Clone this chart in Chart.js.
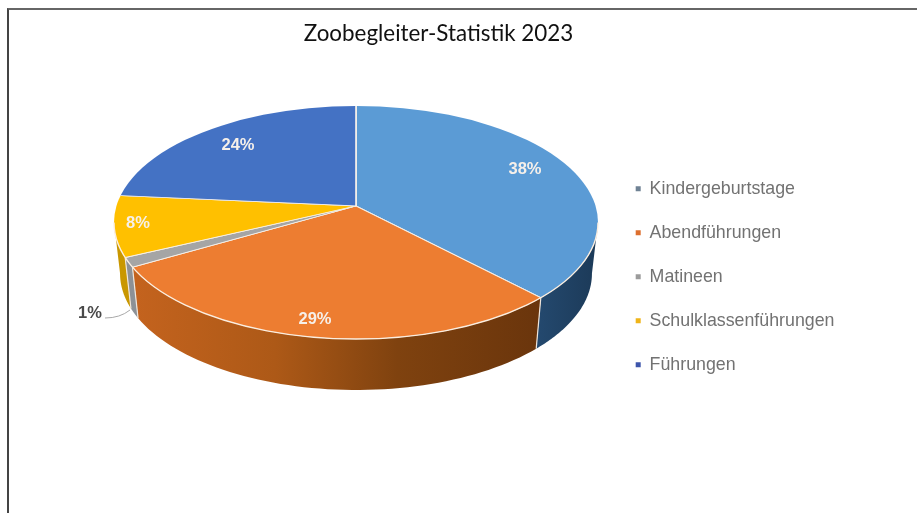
<!DOCTYPE html>
<html lang="de"><head><meta charset="utf-8">
<script src="https://cdn.jsdelivr.net/npm/chart.js@4"></script>
<style>
html,body{margin:0;padding:0;background:#fff;width:917px;height:513px;overflow:hidden}
#frame{position:absolute;left:7px;top:8px;right:0;bottom:0;border-left:2px solid #444;border-top:2px solid #666}
canvas{position:absolute;left:0;top:0;filter:blur(0.45px)}
</style></head><body>
<div id="frame"></div>
<canvas id="c" width="917" height="513"></canvas>
<script>
const categories = ['Kindergeburtstage','Abendführungen','Matineen','Schulklassenführungen','Führungen'];
const shares = [37.6, 29.3, 1.3, 8.2, 23.6];
const sliceColors = ['#5b9bd5','#ed7d31','#a5a5a5','#ffc000','#4472c4'];
const legendColors = ['#6f8294','#dd6f2e','#9b9b9b','#efb419','#3d55ab'];
const titleText = 'Zoobegleiter-Statistik 2023';

// perspective view: apex of the slices sits above the centre of the rim ellipse
const view = {cx:356, cy:206, rimCy:222.5, rx:242, ry:116.5, depth:51, shrink:0.975, over:1.2, kTop:0.5, kBottom:0.49};
const sideStops = [
  [[0,'#24496f'],[1,'#1c3a58']],
  [[0,'#c4631e'],[0.35,'#ad5917'],[0.65,'#7f420f'],[1,'#6a350c']],
  [[0,'#8d9196'],[1,'#8d9196']],
  [[0,'#c99700'],[1,'#c99700']],
  [[0,'#2f4f8a'],[1,'#2f4f8a']]
];
const labelSpots = [[525,169],[315,319],[138,223],[238,145]];
const outsideLabel = {index:2, x:90, y:313};

// where the ray from the apex at slice angle a meets the rim ellipse (ellipse parameter)
function rimParam(a){
  const v = view, k = Math.sin(a)>=0 ? v.kBottom : v.kTop;
  const dx = Math.cos(a)/v.rx, dy = k*Math.sin(a)*v.rx/v.ry/v.rx, y0 = (v.cy-v.rimCy)/v.ry;
  const A = dx*dx+dy*dy, B = 2*dy*y0, C = y0*y0-1;
  const t = (-B+Math.sqrt(B*B-4*A*C))/(2*A);
  return Math.atan2(y0+dy*t, dx*t);
}

const pie3d = {
  id:'pie3d',
  afterLayout(chart){
    const t = chart.titleBlock; t.left -= 20; t.right -= 20;
    const l = chart.legend; const h = l.bottom - l.top; const w = l.right - l.left;
    l.left = 609.5; l.right = l.left + w; l.top = 153.6; l.bottom = l.top + h;
  },
  beforeDatasetDraw(chart,args){
    const ctx = chart.ctx, meta = args.meta, v = view;
    const arcs = meta.data, R = arcs[0].outerRadius, ox = arcs[0].x, oy = arcs[0].y;
    const top = p=>[v.cx+v.rx*Math.cos(p), v.rimCy+v.ry*Math.sin(p)];
    const bot = p=>[v.cx+v.rx*v.shrink*Math.cos(p), v.rimCy+v.ry*Math.sin(p)+v.depth];
    // side wall
    arcs.forEach((a,i)=>{
      let s = rimParam(a.startAngle), e = rimParam(a.endAngle);
      if (a.endAngle>Math.PI && a.endAngle<=1.5*Math.PI+1e-6 && e<0) e += 2*Math.PI;
      if (a.endAngle>=1.5*Math.PI-1e-6 && a.startAngle>Math.PI) return;
      s = Math.max(s,0); e = Math.min(e,Math.PI);
      if (e<=s) return;
      const n = 60; const pts=[];
      for(let k=0;k<=n;k++) pts.push(top(s+(e-s)*k/n));
      for(let k=n;k>=0;k--) pts.push(bot(s+(e-s)*k/n));
      const xs = pts.map(p=>p[0]);
      const g = ctx.createLinearGradient(Math.min(...xs),0,Math.max(...xs),0);
      sideStops[i].forEach(st=>g.addColorStop(st[0],st[1]));
      ctx.save();
      ctx.beginPath(); pts.forEach((p,k)=>k?ctx.lineTo(p[0],p[1]):ctx.moveTo(p[0],p[1])); ctx.closePath();
      ctx.fillStyle=g; ctx.fill();
      ctx.restore();
      if (s>0){
        const p=top(s), q=bot(s);
        ctx.save(); ctx.strokeStyle='#f0e6dc'; ctx.lineWidth=1.2;
        ctx.beginPath(); ctx.moveTo(p[0],p[1]); ctx.lineTo(q[0],q[1]); ctx.stroke(); ctx.restore();
      }
    });
    // top face: the library's own arcs, projected in two halves and trimmed to the rim
    const sx = v.rx*v.over/R;
    [[0,v.cy,sx*v.kTop],[v.cy,chart.height-v.cy,sx*v.kBottom]].forEach(([y,h,sy])=>{
      ctx.save();
      ctx.beginPath(); ctx.rect(0,y,chart.width,h); ctx.clip();
      ctx.beginPath(); ctx.ellipse(v.cx,v.rimCy,v.rx,v.ry,0,0,Math.PI*2); ctx.clip();
      ctx.translate(v.cx,v.cy); ctx.scale(sx,sy); ctx.translate(-ox,-oy);
      meta.controller.draw();
      ctx.restore();
    });
    // light front rim
    ctx.save();
    ctx.strokeStyle='#fbeee0'; ctx.lineWidth=1.4;
    ctx.beginPath(); ctx.ellipse(v.cx,v.rimCy,v.rx,v.ry,0,0,Math.PI); ctx.stroke();
    ctx.restore();
    return false;
  },
  afterDatasetsDraw(chart){
    const ctx = chart.ctx, total = shares.reduce((a,b)=>a+b,0);
    const pct = i=>Math.round(shares[i]/total*100)+'%';
    ctx.save();
    ctx.textAlign='center'; ctx.textBaseline='middle';
    ctx.font='bold 16.5px "Liberation Sans"';
    ctx.fillStyle='#f6f0ea';
    const order=[0,1,3,4];
    order.forEach((d,i)=>ctx.fillText(pct(d),labelSpots[i][0],labelSpots[i][1]));
    ctx.fillStyle='#4a4a4a';
    ctx.fillText(pct(outsideLabel.index),outsideLabel.x,outsideLabel.y);
    ctx.strokeStyle='#a8a8a8'; ctx.lineWidth=1;
    ctx.beginPath(); ctx.moveTo(105,318); ctx.quadraticCurveTo(120,318,130,310); ctx.stroke();
    ctx.restore();
  }
};

new Chart(document.getElementById('c'),{
  type:'pie',
  data:{labels:categories,datasets:[{data:shares,backgroundColor:sliceColors,borderColor:'#f7f1ea',borderWidth:1.3}]},
  plugins:[pie3d],
  options:{
    responsive:false,animation:false,
    layout:{padding:0},
    plugins:{
      tooltip:{enabled:false},
      title:{display:true,text:titleText,color:'#111',align:'center',
        font:{family:'Lato',size:22.4,weight:'normal'},padding:{top:20,bottom:10}},
      legend:{display:true,position:'right',align:'start',
        labels:{
          font:{family:'"Liberation Sans"',size:17.8},
          boxWidth:5,boxHeight:5,padding:26.2,
          generateLabels:ch=>categories.map((c,i)=>({text:c,fontColor:'#727272',fillStyle:legendColors[i],strokeStyle:legendColors[i],lineWidth:0,index:i,hidden:false}))
        }}
    }
  }
});
</script></body></html>
